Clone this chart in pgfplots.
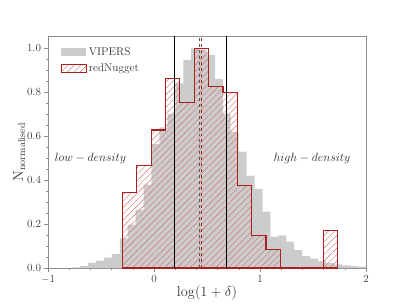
\documentclass[border=0pt]{standalone}
\usepackage{pgfplots}
\pgfplotsset{compat=1.18}
\usetikzlibrary{patterns.meta}
\definecolor{vgrey}{RGB}{204,204,204}
\definecolor{rnred}{RGB}{168,32,32}
\definecolor{hatchred}{RGB}{210,115,115}
\definecolor{framegrey}{RGB}{140,140,140}
\begin{document}
\begin{tikzpicture}
\begin{axis}[
  scale only axis,
  width=318bp, height=232bp,
  xmin=-1, xmax=2, ymin=0, ymax=1.056,
  xtick={-1,0,1,2},
  ytick={0,0.2,0.4,0.6,0.8,1.0},
  minor x tick num=4,
  minor y tick num=3,
  xtick pos=bottom, ytick pos=left,
  tick align=outside,
  major tick length=3.5bp, minor tick length=2bp,
  axis line style={framegrey},
  every tick/.style={framegrey},
  yticklabel style={/pgf/number format/.cd, fixed, fixed zerofill, precision=1},
  ticklabel style={font=\fontsize{11}{13}\selectfont, color=black!75},
  xlabel={$\log(1+\delta)$},
  ylabel={$\mathrm{N}_{\mathrm{normalised}}$},
  label style={font=\fontsize{14}{16}\selectfont, color=black!80},
  xlabel style={yshift=4bp},
  ylabel style={yshift=-5bp},
  legend style={at={(0.03,0.97)}, anchor=north west, draw=none, fill=none,
    font=\fontsize{11.3}{13}\selectfont, row sep=3bp, text=black!80},
  legend cell align=left,
]
% VIPERS grey histogram
\addplot[const plot, fill=vgrey, draw=none,
  legend image code/.code={\fill[vgrey] (0bp,-4bp) rectangle (25bp,4bp);}]
coordinates {
(-0.772,0.003) (-0.697,0.009) (-0.622,0.023) (-0.548,0.034) (-0.473,0.047)
(-0.398,0.064) (-0.323,0.135) (-0.248,0.197) (-0.174,0.265) (-0.099,0.38)
(-0.024,0.564) (0.051,0.64) (0.126,0.70) (0.201,0.84) (0.276,0.946)
(0.350,1.0) (0.425,0.99) (0.500,0.97) (0.575,0.86) (0.650,0.70)
(0.724,0.62) (0.799,0.53) (0.874,0.42) (0.949,0.36) (1.024,0.257)
(1.099,0.143) (1.173,0.148) (1.248,0.12) (1.323,0.081) (1.398,0.054)
(1.473,0.043) (1.548,0.031) (1.622,0.022) (1.697,0.016) (1.772,0.012)
(1.847,0.009) (1.922,0.006) (1.997,0.006)
} \closedcycle;
\addlegendentry{VIPERS}
% redNugget hatched step histogram
\addplot[const plot, draw=rnred, line width=1.2bp,
  pattern={Lines[angle=45, distance=4.5bp, line width=0.45bp]}, pattern color=hatchred,
  legend image code/.code={\draw[rnred, line width=1.2bp, pattern={Lines[angle=45, distance=4.5bp, line width=0.45bp]}, pattern color=hatchred] (0bp,-4bp) rectangle (25bp,4bp);}]
coordinates {
(-0.297,0.343) (-0.1617,0.468) (-0.0264,0.628) (0.1089,0.862) (0.2442,0.755)
(0.3795,1.0) (0.5148,0.827) (0.6501,0.798) (0.7854,0.375) (0.9207,0.148)
(1.056,0.086) (1.1913,0) (1.3266,0) (1.4619,0) (1.5972,0.171) (1.7325,0.171)
} \closedcycle;
\addlegendentry{redNugget}
% vertical lines
\addplot[black, line width=1.1bp, forget plot] coordinates {(0.192,0) (0.192,1.056)};
\addplot[black, line width=1.1bp, forget plot] coordinates {(0.683,0) (0.683,1.056)};
\addplot[gray!70!black, dashed, line width=0.9bp, forget plot] coordinates {(0.428,0) (0.428,1.056)};
\addplot[rnred, dashed, line width=0.9bp, forget plot] coordinates {(0.448,0) (0.448,1.056)};
\node[anchor=west, font=\fontsize{12.5}{14}\selectfont, text=black!85] at (axis cs:-0.968,0.50) {$low-density$};
\node[font=\fontsize{12.5}{14}\selectfont, text=black!85] at (axis cs:1.49,0.50) {$high-density$};
\end{axis}
\path[use as bounding box] ([shift={(-48bp,-37bp)}]current axis.south west) rectangle ([shift={(41bp,36bp)}]current axis.north east);
\end{tikzpicture}
\end{document}
